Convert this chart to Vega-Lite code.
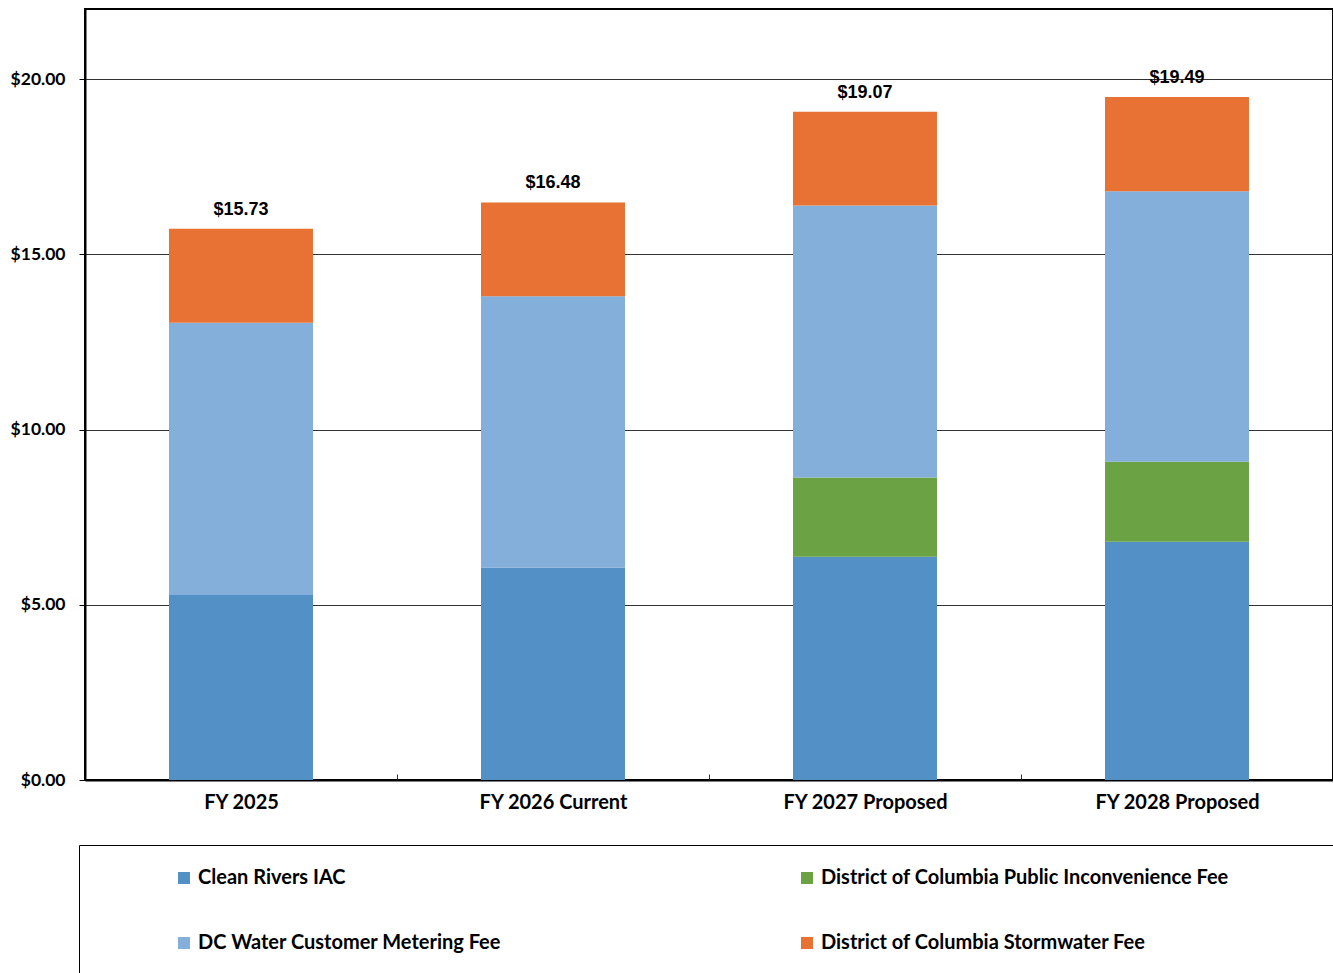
{
  "$schema": "https://vega.github.io/schema/vega-lite/v6.json",
  "autosize": {"type": "none"},
  "padding": {"left": 85, "top": 9, "right": 0, "bottom": 193},
  "width": 1248,
  "height": 771,
  "background": "white",
  "config": {
    "view": {"stroke": "black", "strokeWidth": 2}
  },
  "datasets": {
    "fees": [
      {"year": "FY 2025", "series": "Clean Rivers IAC", "value": 5.28},
      {"year": "FY 2025", "series": "DC Water Customer Metering Fee", "value": 7.77},
      {"year": "FY 2025", "series": "District of Columbia Stormwater Fee", "value": 2.68},
      {"year": "FY 2026 Current", "series": "Clean Rivers IAC", "value": 6.06},
      {"year": "FY 2026 Current", "series": "DC Water Customer Metering Fee", "value": 7.74},
      {"year": "FY 2026 Current", "series": "District of Columbia Stormwater Fee", "value": 2.68},
      {"year": "FY 2027 Proposed", "series": "Clean Rivers IAC", "value": 6.37},
      {"year": "FY 2027 Proposed", "series": "District of Columbia Public Inconvenience Fee", "value": 2.26},
      {"year": "FY 2027 Proposed", "series": "DC Water Customer Metering Fee", "value": 7.76},
      {"year": "FY 2027 Proposed", "series": "District of Columbia Stormwater Fee", "value": 2.68},
      {"year": "FY 2028 Proposed", "series": "Clean Rivers IAC", "value": 6.80},
      {"year": "FY 2028 Proposed", "series": "District of Columbia Public Inconvenience Fee", "value": 2.28},
      {"year": "FY 2028 Proposed", "series": "DC Water Customer Metering Fee", "value": 7.72},
      {"year": "FY 2028 Proposed", "series": "District of Columbia Stormwater Fee", "value": 2.69}
    ],
    "seriesOrder": [
      {"series": "Clean Rivers IAC", "rank": 1},
      {"series": "District of Columbia Public Inconvenience Fee", "rank": 2},
      {"series": "DC Water Customer Metering Fee", "rank": 3},
      {"series": "District of Columbia Stormwater Fee", "rank": 4}
    ]
  },
  "data": {"name": "fees"},
  "encoding": {
    "x": {
      "field": "year",
      "type": "nominal",
      "sort": ["FY 2025", "FY 2026 Current", "FY 2027 Proposed", "FY 2028 Proposed"],
      "scale": {"paddingInner": 0.5385, "paddingOuter": 0.26925},
      "axis": {
        "title": null,
        "labelAngle": 0,
        "labelFont": "Lato",
        "labelFontWeight": "bold",
        "labelFontSize": 20,
        "labelColor": "black",
        "labelPadding": 18,
        "labelOverlap": false,
        "tickOffset": -156,
        "labelOffset": 156,
        "tickSize": -6,
        "tickColor": "#333333",
        "tickWidth": 1,
        "domainColor": "black",
        "domainWidth": 2,
        "grid": false
      }
    }
  },
  "layer": [
    {
      "transform": [
        {"lookup": "series", "from": {"data": {"name": "seriesOrder"}, "key": "series", "fields": ["rank"]}}
      ],
      "mark": {"type": "bar"},
      "encoding": {
        "y": {
          "field": "value",
          "type": "quantitative",
          "stack": "zero",
          "scale": {"domain": [0, 22], "nice": false},
          "axis": {
            "title": null,
            "values": [0, 5, 10, 15, 20],
            "format": "$.2f",
            "labelFont": "Lato",
            "labelFontWeight": "bold",
            "labelFontSize": 17.5,
            "labelColor": "black",
            "labelPadding": 14,
            "tickSize": 6,
            "tickColor": "black",
            "tickWidth": 1,
            "domainColor": "black",
            "domainWidth": 2,
            "grid": true,
            "gridColor": "#333333",
            "gridWidth": 1
          }
        },
        "order": {"field": "rank", "type": "quantitative", "sort": "ascending"},
        "color": {
          "field": "series",
          "type": "nominal",
          "scale": {
            "domain": ["Clean Rivers IAC", "DC Water Customer Metering Fee", "District of Columbia Public Inconvenience Fee", "District of Columbia Stormwater Fee"],
            "range": ["#5390C6", "#85AFDB", "#6AA244", "#E87234"]
          },
          "legend": {
            "title": " ",
            "titleOrient": "right",
            "titlePadding": 150,
            "titleFontSize": 4,
            "orient": "none",
            "legendX": -6,
            "legendY": 836,
            "columns": 2,
            "direction": "vertical",
            "strokeColor": "black",
            "padding": 23,
            "symbolType": "square",
            "symbolSize": 144,
            "symbolStrokeWidth": 0,
            "symbolOffset": 72,
            "labelFont": "Lato",
            "labelFontWeight": "bold",
            "labelFontSize": 20,
            "labelColor": "black",
            "labelOffset": 4,
            "labelLimit": 600,
            "rowPadding": 45,
            "columnPadding": 223
          }
        }
      }
    },
    {
      "transform": [
        {"aggregate": [{"op": "sum", "field": "value", "as": "total"}], "groupby": ["year"]}
      ],
      "mark": {"type": "text", "font": "Liberation Sans", "fontWeight": "bold", "fontSize": 18, "baseline": "alphabetic", "dy": -14, "color": "black"},
      "encoding": {
        "y": {"field": "total", "type": "quantitative"},
        "text": {"field": "total", "type": "quantitative", "format": "$.2f"}
      }
    }
  ]
}
